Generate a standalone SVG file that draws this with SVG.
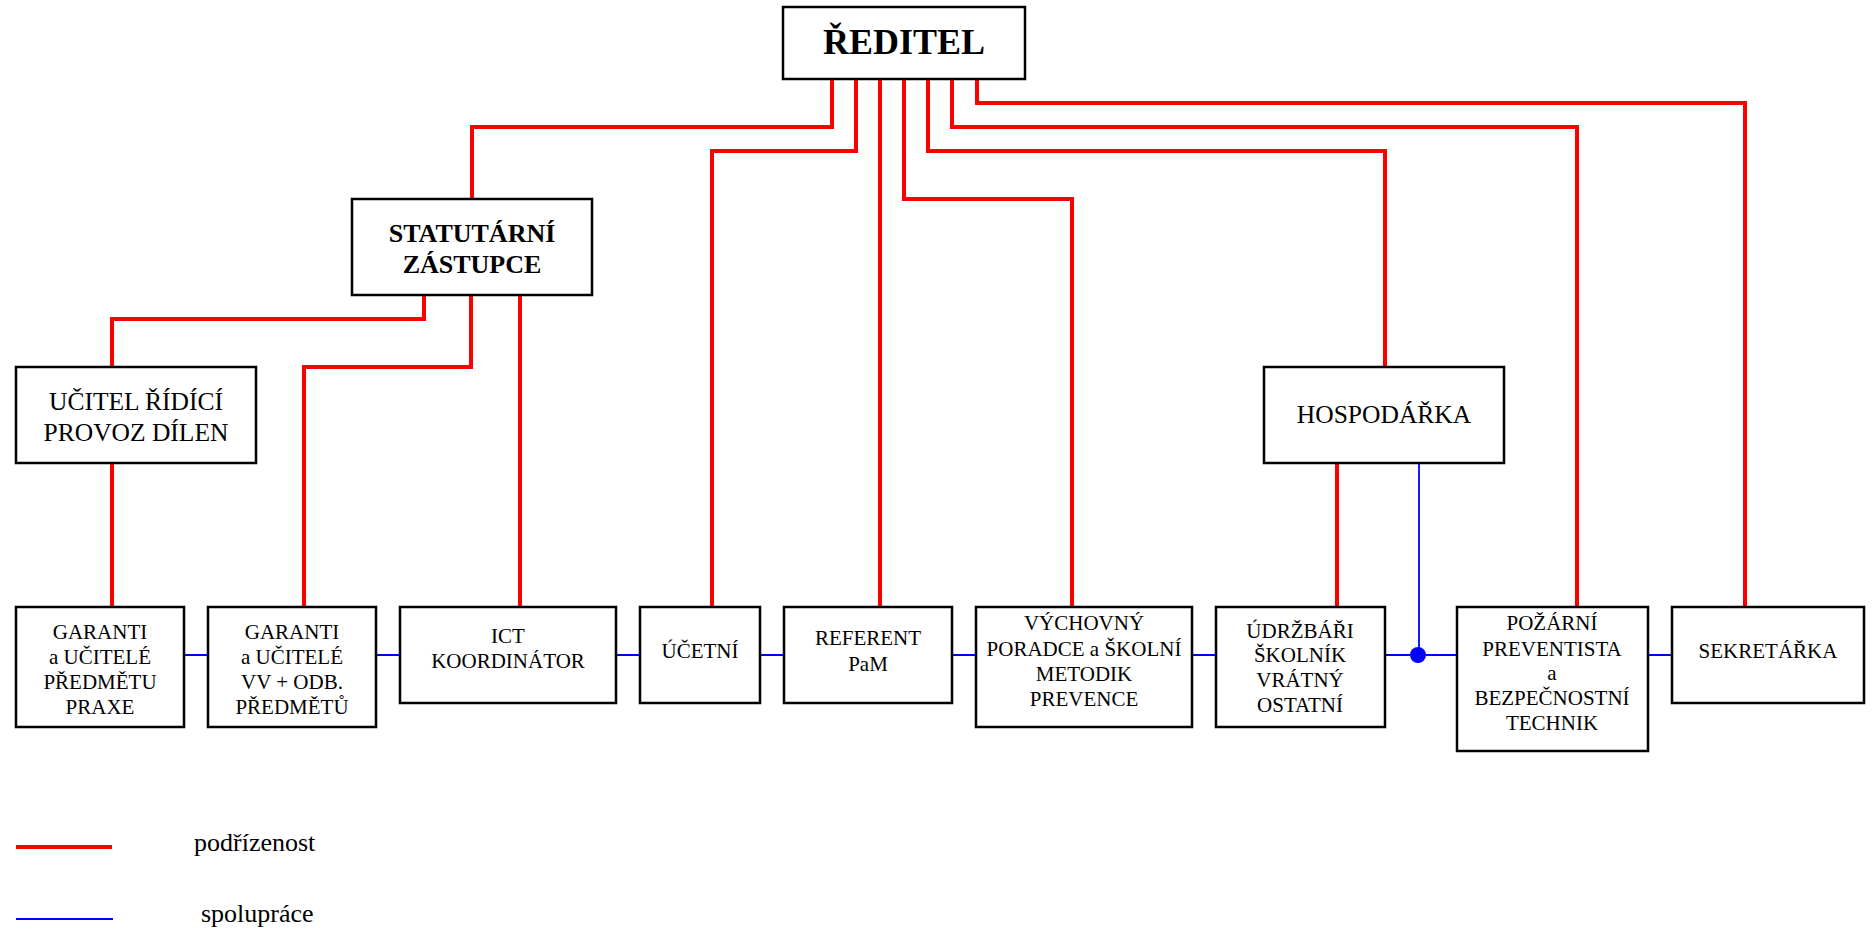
<svg xmlns="http://www.w3.org/2000/svg" width="1874" height="931" viewBox="0 0 1874 931" font-family="Liberation Serif, Times New Roman, DejaVu Serif, serif">
<style>
  .box { fill: #ffffff; stroke: #000000; stroke-width: 2.5; }
  text { font-family: "Liberation Serif", "Times New Roman", "DejaVu Serif", serif; fill: #000000; text-anchor: middle; }
  .s21 { font-size: 21px; }
  .s26 { font-size: 25.5px; }
  .b { font-weight: bold; }
  .red { fill: none; stroke: #ff0000; stroke-width: 4; }
  .blue { fill: none; stroke: #0000ff; stroke-width: 2.2; }
  .blue-thin { fill: none; stroke: #0000ff; stroke-width: 1.8; }
  .left { text-anchor: start; }
</style>
<rect width="1874" height="931" fill="#ffffff"/>

<g id="connectors">
  <path class="red" d="M832,79 V127 H472 V199"/>
  <path class="red" d="M856,79 V151 H712 V607"/>
  <path class="red" d="M880,79 V607"/>
  <path class="red" d="M904,79 V199 H1072 V607"/>
  <path class="red" d="M928,79 V151 H1385 V367"/>
  <path class="red" d="M952,79 V127 H1577 V607"/>
  <path class="red" d="M977,79 V103 H1745 V607"/>
  <path class="red" d="M424,295 V319 H112 V367"/>
  <path class="red" d="M471,295 V367 H304 V607"/>
  <path class="red" d="M520,295 V607"/>
  <path class="red" d="M112,463 V607"/>
  <path class="red" d="M1337,463 V607"/>
  <path class="blue" d="M184,655 H208 M376,655 H400 M616,655 H640 M760,655 H784 M952,655 H976 M1192,655 H1216 M1385,655 H1457 M1648,655 H1672"/>
  <path class="blue-thin" d="M1419,463 V655"/>
  <circle cx="1418" cy="655" r="8" fill="#0000ff"/>
</g>

<g id="reditel">
  <rect class="box" x="783" y="7" width="242" height="72"/>
  <text class="b" x="904" y="54" font-size="36">ŘEDITEL</text>
</g>

<g id="statutarni">
  <rect class="box" x="352" y="199" width="240" height="96"/>
  <text class="b" x="472" y="242" font-size="26">STATUTÁRNÍ</text>
  <text class="b" x="472" y="273" font-size="26">ZÁSTUPCE</text>
</g>

<g id="ucitel">
  <rect class="box" x="16" y="367" width="240" height="96"/>
  <text class="s26" x="136" y="410">UČITEL ŘÍDÍCÍ</text>
  <text class="s26" x="136" y="441">PROVOZ DÍLEN</text>
</g>

<g id="hospodarka">
  <rect class="box" x="1264" y="367" width="240" height="96"/>
  <text class="s26" x="1384" y="423">HOSPODÁŘKA</text>
</g>

<g id="garanti1">
  <rect class="box" x="16" y="607" width="168" height="120"/>
  <text class="s21" x="100" y="639">GARANTI</text>
  <text class="s21" x="100" y="664">a UČITELÉ</text>
  <text class="s21" x="100" y="689">PŘEDMĚTU</text>
  <text class="s21" x="100" y="714">PRAXE</text>
</g>

<g id="garanti2">
  <rect class="box" x="208" y="607" width="168" height="120"/>
  <text class="s21" x="292" y="639">GARANTI</text>
  <text class="s21" x="292" y="664">a UČITELÉ</text>
  <text class="s21" x="292" y="689">VV + ODB.</text>
  <text class="s21" x="292" y="714">PŘEDMĚTŮ</text>
</g>

<g id="ict">
  <rect class="box" x="400" y="607" width="216" height="96"/>
  <text class="s21" x="508" y="643">ICT</text>
  <text class="s21" x="508" y="668">KOORDINÁTOR</text>
</g>

<g id="ucetni">
  <rect class="box" x="640" y="607" width="120" height="96"/>
  <text class="s21" x="700" y="658">ÚČETNÍ</text>
</g>

<g id="referent">
  <rect class="box" x="784" y="607" width="168" height="96"/>
  <text class="s21" x="868" y="645">REFERENT</text>
  <text class="s21" x="868" y="671">PaM</text>
</g>

<g id="vychovny">
  <rect class="box" x="976" y="607" width="216" height="120"/>
  <text class="s21" x="1084" y="630">VÝCHOVNÝ</text>
  <text class="s21" x="1084" y="656">PORADCE a ŠKOLNÍ</text>
  <text class="s21" x="1084" y="681">METODIK</text>
  <text class="s21" x="1084" y="706">PREVENCE</text>
</g>

<g id="udrzbari">
  <rect class="box" x="1216" y="607" width="169" height="120"/>
  <text class="s21" x="1300" y="638">ÚDRŽBÁŘI</text>
  <text class="s21" x="1300" y="662">ŠKOLNÍK</text>
  <text class="s21" x="1300" y="687">VRÁTNÝ</text>
  <text class="s21" x="1300" y="712">OSTATNÍ</text>
</g>

<g id="pozarni">
  <rect class="box" x="1457" y="607" width="191" height="144"/>
  <text class="s21" x="1552" y="630">POŽÁRNÍ</text>
  <text class="s21" x="1552" y="656">PREVENTISTA</text>
  <text class="s21" x="1552" y="680">a</text>
  <text class="s21" x="1552" y="705">BEZPEČNOSTNÍ</text>
  <text class="s21" x="1552" y="730">TECHNIK</text>
</g>

<g id="sekretarka">
  <rect class="box" x="1672" y="607" width="192" height="96"/>
  <text class="s21" x="1768" y="658">SEKRETÁŘKA</text>
</g>

<g id="legend">
  <line x1="16" y1="847" x2="112" y2="847" stroke="#ff0000" stroke-width="4"/>
  <line x1="16" y1="919" x2="113" y2="919" stroke="#0000ff" stroke-width="2"/>
  <text class="left" x="194" y="851" font-size="26">podřízenost</text>
  <text class="left" x="201" y="922" font-size="26">spolupráce</text>
</g>
</svg>
